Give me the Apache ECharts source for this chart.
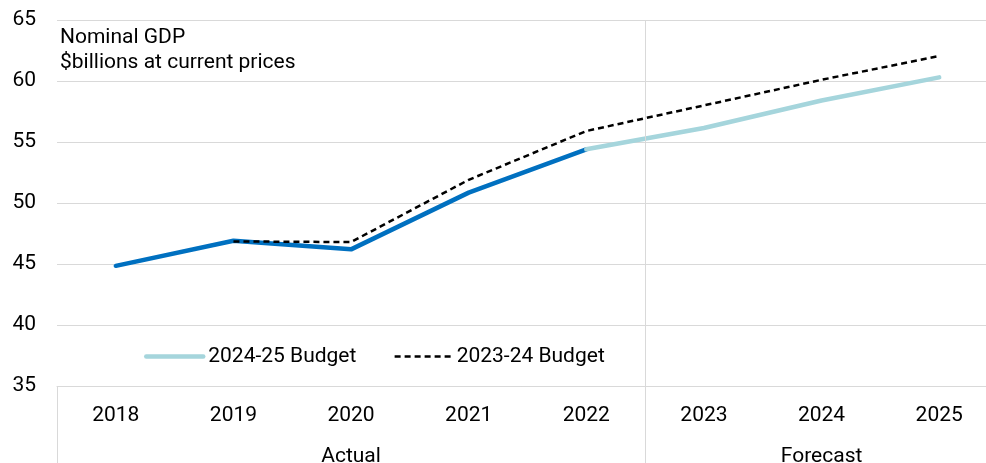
<!DOCTYPE html>
<html>
<head>
<meta charset="utf-8">
<script src="https://cdn.jsdelivr.net/npm/echarts@6/dist/echarts.min.js"></script>
<style>
  html, body { margin: 0; padding: 0; background: #fff; }
  #chart { width: 986px; height: 463px; }
</style>
</head>
<body>
<div id="chart"></div>
<script>
// Nominal GDP, $billions at current prices
const years = ['2018', '2019', '2020', '2021', '2022', '2023', '2024', '2025'];
const actual = [44.85, 46.9, 46.2, 50.85, 54.4, null, null, null];
const budget2425 = [null, null, null, null, 54.4, 56.15, 58.4, 60.3];
const budget2324 = [null, 46.85, 46.8, 51.9, 55.9, 58.0, 60.1, 62.05];
const periodNames = { 2.5: 'Actual', 6.5: 'Forecast' };
const periodBounds = [0, 5, 8];
const yTicks = { min: 35, max: 65, step: 5 };

const FONT = 'Roboto';
const FS = 21;
const GRID_COLOR = '#d9d9d9';

const chart = echarts.init(document.getElementById('chart'), null, { renderer: 'canvas' });

chart.setOption({
  animation: false,
  textStyle: { fontFamily: FONT },
  title: {
    text: 'Nominal GDP\n$billions at current prices',
    left: 60,
    top: 25,
    padding: 0,
    textStyle: { fontFamily: FONT, fontSize: FS, fontWeight: 'normal', color: '#000', lineHeight: 25 }
  },
  legend: {
    data: ['2024-25 Budget', '2023-24 Budget'],
    left: 139,
    top: 341,
    itemWidth: 57,
    itemHeight: 22,
    itemGap: 37,
    itemStyle: { opacity: 0 },
    lineStyle: { width: 'inherit' },
    textStyle: { fontFamily: FONT, fontSize: FS, color: '#000' }
  },
  grid: { left: 57, right: -12, top: 20, bottom: 77, containLabel: false, outerBoundsMode: 'none' },
  xAxis: [
    {
      type: 'category',
      data: years,
      boundaryGap: true,
      axisLine: { show: true, lineStyle: { color: GRID_COLOR, width: 1 } },
      axisTick: { show: false },
      axisLabel: { fontFamily: FONT, fontSize: FS, color: '#000', margin: 19 }
    },
    {
      type: 'value',
      min: 0,
      max: 8,
      position: 'bottom',
      axisLine: { show: false },
      splitLine: { show: false },
      axisTick: {
        show: true,
        customValues: periodBounds,
        length: 77,
        lineStyle: { color: GRID_COLOR, width: 1 }
      },
      axisLabel: {
        customValues: [2.5, 6.5],
        formatter: v => periodNames[v] || '',
        fontFamily: FONT, fontSize: FS, color: '#000', margin: 60
      }
    }
  ],
  yAxis: {
    type: 'value',
    min: yTicks.min,
    max: yTicks.max,
    interval: yTicks.step,
    axisLine: { show: false },
    axisTick: { show: false },
    splitLine: { show: true, lineStyle: { color: GRID_COLOR, width: 1 } },
    axisLabel: { fontFamily: FONT, fontSize: FS, color: '#000', margin: 21 }
  },
  series: [
    {
      name: 'divider',
      type: 'line',
      xAxisIndex: 1,
      data: [],
      silent: true,
      markLine: {
        symbol: 'none',
        silent: true,
        label: { show: false },
        lineStyle: { color: GRID_COLOR, width: 1, type: 'solid' },
        data: [{ xAxis: 5 }]
      }
    },
    {
      name: 'Actual',
      type: 'line',
      data: actual,
      showSymbol: false,
      symbol: 'none',
      lineStyle: { color: '#0070c0', width: 4.5, cap: 'round', join: 'round' },
      itemStyle: { color: '#0070c0' },
      z: 3
    },
    {
      name: '2024-25 Budget',
      type: 'line',
      data: budget2425,
      showSymbol: false,
      symbol: 'none',
      lineStyle: { color: '#a5d5dc', width: 4.5, cap: 'round', join: 'round' },
      itemStyle: { color: '#a5d5dc' },
      z: 3
    },
    {
      name: '2023-24 Budget',
      type: 'line',
      data: budget2324,
      showSymbol: false,
      symbol: 'none',
      lineStyle: { color: '#000', width: 2.5, type: [6, 4] },
      itemStyle: { color: '#000' },
      z: 4
    }
  ]
});
</script>
</body>
</html>
